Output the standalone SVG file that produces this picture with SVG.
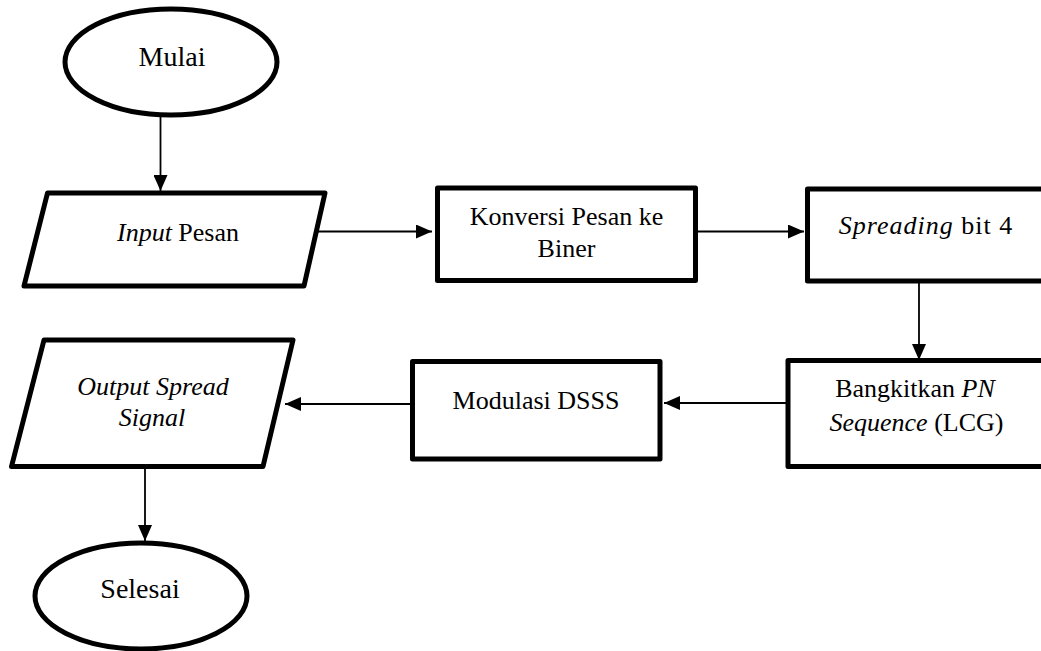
<svg xmlns="http://www.w3.org/2000/svg" width="1041" height="651" viewBox="0 0 1041 651">
<style>
.shape{fill:#fff;stroke:#000;stroke-width:5;stroke-linejoin:round}
.lbl{font-family:"Liberation Serif","Times New Roman",serif;font-size:26px;fill:#000;text-anchor:middle}
.big{font-size:28px}
.it{font-style:italic}
.conn{stroke:#000;stroke-width:1.8;fill:none}
</style>
<defs>
<marker id="arr" markerUnits="userSpaceOnUse" markerWidth="16" markerHeight="14" viewBox="0 0 16 14" refX="16" refY="7" orient="auto">
<path d="M0,0 L16,7 L0,14 Z" fill="#000"/>
</marker>
</defs>
<rect width="1041" height="651" fill="#fff"/>
<g id="connectors">
<line class="conn" x1="160.5" y1="117" x2="160.5" y2="191" marker-end="url(#arr)"/>
<line class="conn" x1="316" y1="231.5" x2="432" y2="231.5" marker-end="url(#arr)"/>
<line class="conn" x1="690" y1="231.5" x2="804" y2="231.5" marker-end="url(#arr)"/>
<line class="conn" x1="919" y1="283" x2="919" y2="360" marker-end="url(#arr)"/>
<line class="conn" x1="792" y1="403" x2="664" y2="403" marker-end="url(#arr)"/>
<line class="conn" x1="412" y1="404" x2="285" y2="404" marker-end="url(#arr)"/>
<line class="conn" x1="145" y1="467" x2="145" y2="541" marker-end="url(#arr)"/>
</g>
<g id="mulai">
<ellipse class="shape" cx="171" cy="62" rx="106" ry="53"/>
<text class="lbl big" x="172" y="66">Mulai</text>
</g>
<g id="input">
<polygon class="shape" points="47.5,193 325,193 304,286 24,286"/>
<text class="lbl" x="178" y="241"><tspan class="it">Input</tspan> Pesan</text>
</g>
<g id="konversi">
<rect class="shape" x="437.5" y="188" width="258" height="92.5"/>
<text class="lbl" x="566.5" y="225">Konversi Pesan ke</text>
<text class="lbl" x="566.5" y="257">Biner</text>
</g>
<g id="spreading">
<rect class="shape" x="807.5" y="189" width="240" height="92"/>
<text class="lbl" x="926" y="234" letter-spacing="1"><tspan class="it">Spreading</tspan> bit 4</text>
</g>
<g id="bangkitkan">
<rect class="shape" x="788" y="360.5" width="260" height="106"/>
<text class="lbl" x="915" y="397">Bangkitkan <tspan class="it">PN</tspan></text>
<text class="lbl" x="916.5" y="431"><tspan class="it">Sequence</tspan> (LCG)</text>
</g>
<g id="modulasi">
<rect class="shape" x="412.5" y="361.5" width="247.5" height="97.5"/>
<text class="lbl" x="536" y="409">Modulasi DSSS</text>
</g>
<g id="output">
<polygon class="shape" points="44,340 293,340 263,466.5 11.5,466.5"/>
<text class="lbl it" x="153" y="395">Output Spread</text>
<text class="lbl it" x="152" y="426">Signal</text>
</g>
<g id="selesai">
<ellipse class="shape" cx="141" cy="596" rx="106" ry="53"/>
<text class="lbl big" x="140" y="598">Selesai</text>
</g>
</svg>
